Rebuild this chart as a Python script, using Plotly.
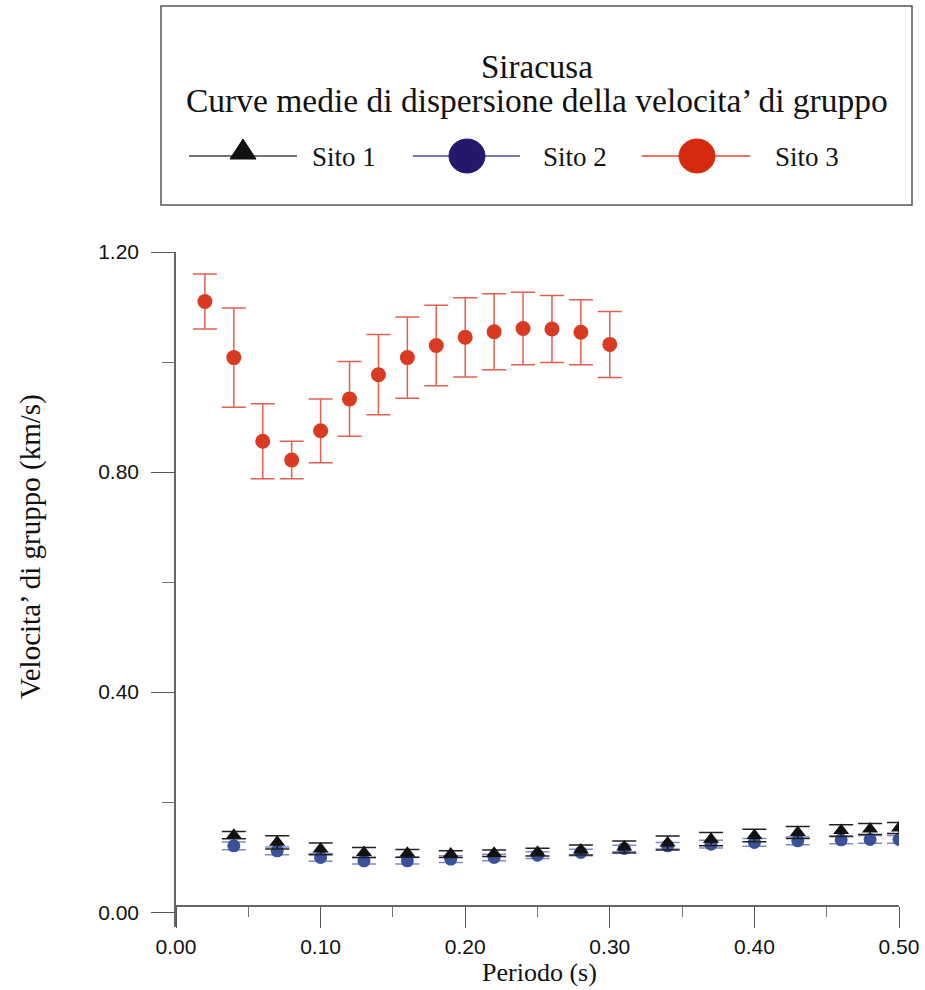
import plotly.graph_objects as go

W, H = 925, 990

# ---------------- data ----------------
sito1_x = [0.04, 0.07, 0.10, 0.13, 0.16, 0.19, 0.22, 0.25, 0.28, 0.31, 0.34, 0.37, 0.40, 0.43, 0.46, 0.48, 0.50]
sito1_y = [0.140, 0.127, 0.115, 0.1085, 0.107, 0.1055, 0.107, 0.109, 0.113, 0.1185, 0.1255, 0.1327, 0.1394, 0.1448, 0.1482, 0.1513, 0.1530]
sito1_err = [0.0064, 0.012, 0.0106, 0.009, 0.007, 0.006, 0.006, 0.007, 0.009, 0.011, 0.0127, 0.012, 0.0115, 0.011, 0.0106, 0.010, 0.010]

sito2_x = [0.04, 0.07, 0.10, 0.13, 0.16, 0.19, 0.22, 0.25, 0.28, 0.31, 0.34, 0.37, 0.40, 0.43, 0.46, 0.48, 0.50]
sito2_y = [0.1206, 0.1115, 0.0994, 0.0933, 0.0933, 0.0964, 0.0994, 0.1036, 0.1085, 0.1158, 0.1206, 0.1236, 0.1267, 0.1297, 0.1315, 0.1321, 0.1321]
sito2_err = [0.007, 0.007, 0.007, 0.006, 0.006, 0.006, 0.006, 0.006, 0.006, 0.006, 0.006, 0.007, 0.007, 0.007, 0.007, 0.007, 0.007]

sito3_x = [0.02, 0.04, 0.06, 0.08, 0.10, 0.12, 0.14, 0.16, 0.18, 0.20, 0.22, 0.24, 0.26, 0.28, 0.30]
sito3_y = [1.110, 1.008, 0.856, 0.822, 0.875, 0.933, 0.977, 1.008, 1.030, 1.045, 1.055, 1.061, 1.060, 1.054, 1.032]
sito3_err = [0.050, 0.090, 0.068, 0.034, 0.058, 0.068, 0.073, 0.074, 0.073, 0.072, 0.069, 0.066, 0.061, 0.059, 0.060]

x_ticks = [0.0, 0.1, 0.2, 0.3, 0.4, 0.5]
y_ticks = [0.0, 0.4, 0.8, 1.2]

legend_title = "Siracusa"
legend_subtitle = "Curve medie di dispersione della velocita\u2019 di gruppo"
series_names = ["Sito 1", "Sito 2", "Sito 3"]
x_title = "Periodo (s)"
y_title = "Velocita\u2019 di gruppo (km/s)"

# ---------------- helpers (pixel -> paper) ----------------
def px(x):
    return x / W

def py(y):
    return 1 - y / H

SERIF = "Liberation Serif, Times New Roman, serif"
SANS = "Liberation Sans, Arial, sans-serif"

RED = "#d83a22"
RED_ERR = "#e2604f"
BLUE = "#3a5199"
BLUE_ERR = "#7b8cc6"
BLACK = "#111111"

fig = go.Figure()

fig.add_trace(go.Scatter(
    x=sito2_x, y=sito2_y, mode="markers", name=series_names[1],
    marker=dict(symbol="circle", size=13, color=BLUE),
    error_y=dict(type="data", array=sito2_err, color=BLUE_ERR, thickness=1.5, width=12),
))
fig.add_trace(go.Scatter(
    x=sito1_x, y=sito1_y, mode="markers", name=series_names[0],
    marker=dict(symbol="triangle-up", size=14, color=BLACK),
    error_y=dict(type="data", array=sito1_err, color="#222222", thickness=1.5, width=12),
))
fig.add_trace(go.Scatter(
    x=sito3_x, y=sito3_y, mode="markers", name=series_names[2],
    marker=dict(symbol="circle", size=15, color=RED),
    error_y=dict(type="data", array=sito3_err, color=RED_ERR, thickness=1.5, width=12),
))

x_left, x_right = 176, 899
y_top, y_bot = 252, 927
x_axis_pix = 906

fig.update_layout(
    width=W, height=H,
    margin=dict(l=0, r=0, t=0, b=0, autoexpand=False),
    paper_bgcolor="white", plot_bgcolor="white",
    showlegend=False,
    xaxis=dict(
        domain=[px(x_left), px(x_right)],
        range=[0, 0.5],
        anchor="free", position=py(x_axis_pix),
        automargin=False,
        showgrid=False, zeroline=False,
        showline=True, linecolor="#666666", linewidth=1.5,
        tickmode="array", tickvals=x_ticks, tickformat=".2f",
        ticks="outside", ticklen=21, tickwidth=1.2, tickcolor="#555555",
        minor=dict(dtick=0.05, ticks="outside", ticklen=10, tickwidth=1.2, tickcolor="#777777", showgrid=False),
        tickfont=dict(family=SANS, size=21, color="#111111"),
        ticklabelstandoff=1,
    ),
    yaxis=dict(
        domain=[py(y_bot), py(y_top)],
        range=[-0.027, 1.2],
        automargin=False,
        showgrid=False, zeroline=False,
        showline=True, linecolor="#666666", linewidth=1.5,
        tickmode="array", tickvals=y_ticks, tickformat=".2f",
        ticks="outside", ticklen=23, tickwidth=1.2, tickcolor="#555555",
        minor=dict(dtick=0.2, ticks="outside", ticklen=12, tickwidth=1.2, tickcolor="#777777", showgrid=False),
        tickfont=dict(family=SANS, size=21, color="#111111"),
        ticklabelstandoff=8,
    ),
)

shapes = []
annotations = []

# legend box
shapes.append(dict(type="rect", xref="paper", yref="paper",
                   x0=px(161), x1=px(912), y0=py(205), y1=py(6),
                   line=dict(color="#555555", width=1.5), fillcolor="rgba(0,0,0,0)"))

annotations.append(dict(text=legend_title, xref="paper", yref="paper",
                        x=px(537), y=py(67), xanchor="center", yanchor="middle",
                        showarrow=False, font=dict(family=SERIF, size=33, color="#111111")))
annotations.append(dict(text=legend_subtitle, xref="paper", yref="paper",
                        x=px(537), y=py(101), xanchor="center", yanchor="middle",
                        showarrow=False, font=dict(family=SERIF, size=33.5, color="#111111")))

# legend items
leg_y = 156
items = [
    (189, 297, 243, "#444444", "tri", BLACK, 310),
    (413, 520, 467, "#4a4aa0", "circ", "#24186a", 541),
    (642, 750, 697, "#e04a36", "circ", "#d42a10", 773),
]
for (lx0, lx1, mx, lcol, kind, mcol, tx), name in zip(items, series_names):
    shapes.append(dict(type="line", xref="paper", yref="paper",
                       x0=px(lx0), x1=px(lx1), y0=py(leg_y), y1=py(leg_y),
                       line=dict(color=lcol, width=1.3)))
    if kind == "tri":
        path = "M {:.5f},{:.5f} L {:.5f},{:.5f} L {:.5f},{:.5f} Z".format(
            px(mx), py(139), px(mx - 13), py(159), px(mx + 13), py(159))
        shapes.append(dict(type="path", xref="paper", yref="paper", path=path,
                           fillcolor=mcol, line=dict(color=mcol, width=1)))
    else:
        shapes.append(dict(type="circle", xref="paper", yref="paper",
                           x0=px(mx - 18), x1=px(mx + 18), y0=py(leg_y + 17), y1=py(leg_y - 17),
                           fillcolor=mcol, line=dict(color=mcol, width=1)))
    annotations.append(dict(text=name, xref="paper", yref="paper",
                            x=px(tx), y=py(157), xanchor="left", yanchor="middle",
                            showarrow=False, font=dict(family=SERIF, size=27, color="#111111")))

# axis titles
annotations.append(dict(text=x_title, xref="paper", yref="paper",
                        x=px(539), y=py(972), xanchor="center", yanchor="middle",
                        showarrow=False, font=dict(family=SERIF, size=26, color="#111111")))
annotations.append(dict(text=y_title, xref="paper", yref="paper",
                        x=px(30), y=py(547), xanchor="center", yanchor="middle", textangle=-90,
                        showarrow=False, font=dict(family=SERIF, size=29, color="#111111")))

fig.update_layout(shapes=shapes, annotations=annotations)

fig.write_html("out.html")
